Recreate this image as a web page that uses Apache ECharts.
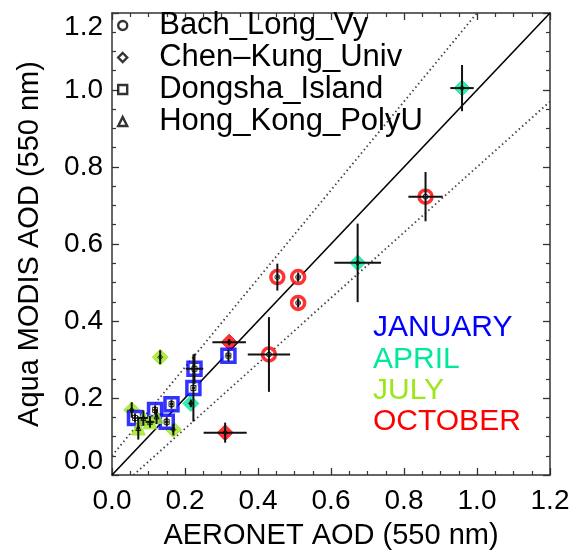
<!DOCTYPE html>
<html>
<head>
<meta charset="utf-8">
<script src="https://cdn.jsdelivr.net/npm/echarts@6/dist/echarts.min.js"></script>
<style>
  html, body { margin: 0; padding: 0; background: #fff; }
  #chart { width: 577px; height: 555px; }
</style>
</head>
<body>
<div id="chart"></div>
<script>
// Month groups and their colours
const months = ['JANUARY', 'APRIL', 'JULY', 'OCTOBER'];
const monthColors = ['#0000ff', '#00e89c', '#9ee61c', '#ff0000'];

// Axis ticks
const axisMin = 0;
const axisMax = 1.2;
const axisStep = 0.2;

// Site records: [AERONET AOD, MODIS AOD, month index, AERONET error, MODIS error]
const bachLongVy = [
  [0.859, 0.723, 3, 0.047, 0.064],
  [0.453, 0.514, 3, 0.004, 0.035],
  [0.510, 0.514, 3, 0.004, 0.012],
  [0.510, 0.447, 3, 0.004, 0.012],
  [0.430, 0.313, 3, 0.058, 0.097]
];
const chenKungUniv = [
  [0.959, 1.005, 1, 0.032, 0.060],
  [0.673, 0.551, 1, 0.064, 0.102],
  [0.216, 0.186, 1, 0.005, 0.010],
  [0.321, 0.345, 3, 0.046, 0.008],
  [0.310, 0.110, 3, 0.059, 0.026],
  [0.132, 0.306, 2, 0.003, 0.018],
  [0.054, 0.169, 2, 0.004, 0.020],
  [0.168, 0.118, 2, 0.004, 0.015]
];
const dongshaIsland = [
  [0.319, 0.310, 0, 0.006, 0.015],
  [0.226, 0.276, 0, 0.024, 0.039],
  [0.223, 0.226, 0, 0.004, 0.087],
  [0.163, 0.184, 0, 0.005, 0.012],
  [0.118, 0.169, 0, 0.005, 0.012],
  [0.063, 0.148, 0, 0.005, 0.012],
  [0.150, 0.138, 0, 0.005, 0.012]
];
const hongKongPolyU = [
  [0.086, 0.148, 2, 0.012, 0.020],
  [0.072, 0.122, 2, 0.004, 0.030],
  [0.122, 0.152, 2, 0.004, 0.020],
  [0.104, 0.138, 2, 0.012, 0.015]
];

// One-to-one line and expected-error envelope (±(0.05 + 0.15·AOD))
const oneToOne = [[0, 0], [1.2, 1.2]];
const upperEnvelope = [[0, 0.05], [1.0, 1.2]];
const lowerEnvelope = [[0.05 / 0.85, 0], [1.2, 0.85 * 1.2 - 0.05]];

const sites = [
  { name: 'Bach_Long_Vy', data: bachLongVy, symbol: 'circle', size: 13, filled: false },
  { name: 'Chen\u2013Kung_Univ', data: chenKungUniv, symbol: 'diamond', size: 16, filled: true },
  { name: 'Dongsha_Island', data: dongshaIsland, symbol: 'rect', size: 13, filled: false },
  { name: 'Hong_Kong_PolyU', data: hongKongPolyU, symbol: 'triangle', size: 14, filled: true }
];

const FONT = '"Liberation Sans", Arial, Helvetica, sans-serif';
const AXIS_COLOR = '#333';

function makeAxis(dim, position, withLabels) {
  const ax = {
    type: 'value',
    min: axisMin,
    max: axisMax,
    interval: axisStep,
    position: position,
    axisLine: { show: true, onZero: false, lineStyle: { color: AXIS_COLOR, width: 1.5 } },
    axisTick: { show: true, inside: true, length: 7, lineStyle: { color: AXIS_COLOR, width: 1.3 } },
    minorTick: { show: true, splitNumber: 4, length: 4, lineStyle: { color: AXIS_COLOR, width: 1.2 } },
    splitLine: { show: false },
    axisLabel: {
      show: withLabels,
      formatter: v => v.toFixed(1),
      fontFamily: FONT,
      fontSize: 28,
      color: '#000',
      margin: dim === 'x' ? 12 : 9
    }
  };
  if (dim === 'y') {
    ax.axisLabel.verticalAlignMinLabel = 'bottom';
    ax.axisLabel.verticalAlignMaxLabel = 'top';
  }
  if (withLabels) {
    ax.name = dim === 'x' ? 'AERONET AOD (550 nm)' : 'Aqua MODIS AOD (550 nm)';
    ax.nameLocation = 'middle';
    ax.nameGap = dim === 'x' ? 46 : 68;
    ax.nameTextStyle = { fontFamily: FONT, fontSize: 29, color: '#000' };
  }
  return ax;
}

const series = [];

// Reference lines
series.push({
  type: 'line', data: oneToOne, symbol: 'none', silent: true, z: 1,
  lineStyle: { color: '#000', width: 1.6, type: 'solid' }
});
[upperEnvelope, lowerEnvelope].forEach(d => series.push({
  type: 'line', data: d, symbol: 'none', silent: true, z: 1,
  lineStyle: { color: '#444', width: 1.8, type: [1.5, 3] }
}));

sites.forEach(site => {
  // Coloured site markers
  series.push({
    name: site.name,
    type: 'scatter',
    symbol: site.symbol,
    symbolSize: site.size,
    z: 2,
    data: site.data.map(r => ({
      value: [r[0], r[1]],
      itemStyle: site.filled
        ? { color: monthColors[r[2]], borderColor: monthColors[r[2]], borderWidth: 1 }
        : { color: '#fff', borderColor: monthColors[r[2]], borderWidth: 3.5 }
    }))
  });
  // Error bars
  series.push({
    type: 'custom',
    z: 3,
    silent: true,
    data: site.data.map(r => [r[0], r[1], r[3], r[4]]),
    encode: { x: 0, y: 1 },
    renderItem: function (params, api) {
      const x = api.value(0), y = api.value(1), ex = api.value(2), ey = api.value(3);
      const l = api.coord([x - ex, y]), r = api.coord([x + ex, y]);
      const b = api.coord([x, y - ey]), t = api.coord([x, y + ey]);
      const style = { stroke: '#111', lineWidth: 2 };
      return {
        type: 'group',
        children: [
          { type: 'line', shape: { x1: l[0], y1: l[1], x2: r[0], y2: r[1] }, style: style },
          { type: 'line', shape: { x1: b[0], y1: b[1], x2: t[0], y2: t[1] }, style: style }
        ]
      };
    }
  });
  // Small black centre symbol
  series.push({
    type: 'scatter',
    symbol: site.symbol,
    symbolSize: 5,
    z: 4,
    silent: true,
    data: site.data.map(r => [r[0], r[1]]),
    itemStyle: { color: 'rgba(0,0,0,0)', borderColor: '#000', borderWidth: 1 }
  });
});

// Month captions
const monthTexts = months.map((m, i) => ({
  type: 'text',
  left: 373,
  top: 313 + i * 31.3,
  style: { text: m, fill: monthColors[i], font: '30px ' + FONT }
}));

const option = {
  animation: false,
  backgroundColor: '#fff',
  grid: { left: 112, right: 27, top: 13, bottom: 74 },
  xAxis: [makeAxis('x', 'bottom', true), makeAxis('x', 'top', false)],
  yAxis: [makeAxis('y', 'left', true), makeAxis('y', 'right', false)],
  legend: {
    orient: 'vertical',
    left: 117,
    top: 10,
    padding: 0,
    itemGap: 1,
    itemWidth: 9,
    itemHeight: 9,
    selectedMode: false,
    textStyle: { fontFamily: FONT, fontSize: 31, color: '#000', lineHeight: 31, padding: [0, 0, 0, 27] },
    data: sites.map(s => ({
      name: s.name,
      icon: s.symbol,
      itemStyle: { color: '#fff', borderColor: '#000', borderWidth: 2.4 }
    }))
  },
  graphic: monthTexts,
  series: series
};

echarts.init(document.getElementById('chart'), null, { renderer: 'canvas' }).setOption(option);
</script>
</body>
</html>
